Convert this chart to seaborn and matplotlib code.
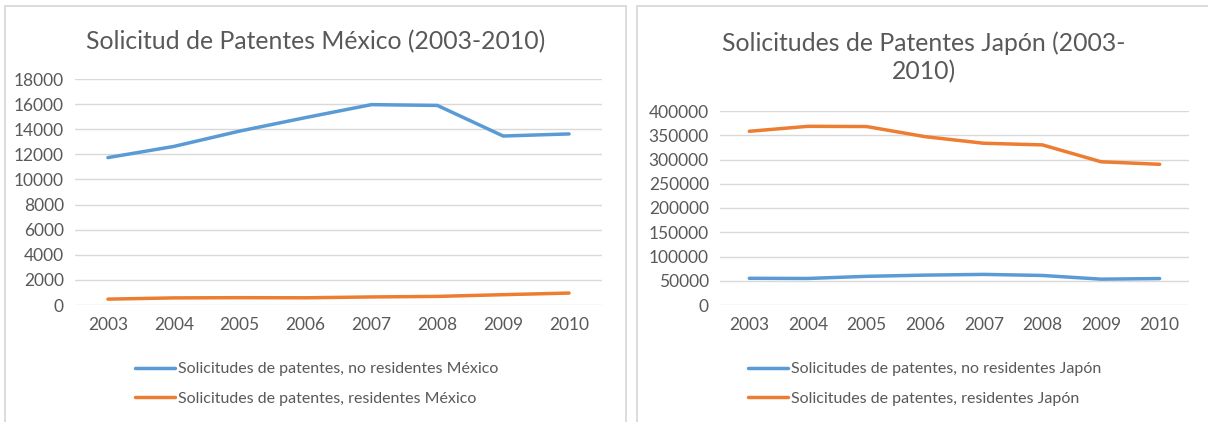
import matplotlib
matplotlib.use("Agg")
import matplotlib.pyplot as plt
import seaborn as sns
import pandas as pd
from matplotlib.patches import Rectangle
from matplotlib.lines import Line2D

years = [2003, 2004, 2005, 2006, 2007, 2008, 2009, 2010]
mx_no_res = [11739, 12629, 13852, 14926, 15958, 15896, 13459, 13625]
mx_res = [468, 565, 584, 574, 641, 685, 822, 951]
jp_no_res = [55030, 54710, 59118, 61614, 63104, 60892, 53281, 54517]
jp_res = [358184, 368416, 367960, 347060, 333498, 330110, 295315, 290081]

mx_labels = ["Solicitudes de patentes, no residentes México",
             "Solicitudes de patentes, residentes México"]
jp_labels = ["Solicitudes de patentes, no residentes Japón",
             "Solicitudes de patentes, residentes Japón"]
mx_title = "Solicitud de Patentes México (2003-2010)"
jp_title = "Solicitudes de Patentes Japón (2003-\n2010)"
mx_yticks = list(range(0, 18001, 2000))
jp_yticks = list(range(0, 400001, 50000))

BLUE = "#5B9BD5"
ORANGE = "#ED7D31"
TXT = "#595959"
GRID = "#D9D9D9"

sns.set_style("white")
plt.rcParams['font.family'] = ['Lato', 'DejaVu Sans']

W, H = 1208, 422
fig = plt.figure(figsize=(W / 100, H / 100), dpi=100)

def px_rect(x0, y0, x1, y1):
    return [x0 / W, 1 - y1 / H, (x1 - x0) / W, (y1 - y0) / H]

# panel borders
for (x0, x1) in [(5, 626), (637, 1214)]:
    fig.patches.append(Rectangle((x0 / W, -0.05), (x1 - x0) / W, 1 - 6 / H + 0.05,
                                 transform=fig.transFigure, fill=False,
                                 edgecolor="#D9D9D9", linewidth=1.3))

def draw(axrect, s1, s2, labels, title, yticks, title_xy, legend_xy):
    ax = fig.add_axes(px_rect(*axrect))
    df = pd.DataFrame({"Año": years * 2, "Valor": s1 + s2,
                       "Serie": [labels[0]] * len(years) + [labels[1]] * len(years)})
    sns.lineplot(data=df, x="Año", y="Valor", hue="Serie",
                 palette=[BLUE, ORANGE], linewidth=2.5, ax=ax, legend=False)
    ax.set_xlim(years[0] - 0.5, years[-1] + 0.5)
    ax.set_ylim(yticks[0], yticks[-1])
    ax.set_yticks(yticks)
    ax.set_xticks(years)
    ax.set_xticklabels([str(y) for y in years])
    ax.set_yticklabels([str(v) for v in yticks])
    ax.grid(axis="y", color=GRID, linewidth=1.0)
    ax.set_axisbelow(True)
    for sp in ax.spines.values():
        sp.set_visible(False)
    ax.tick_params(axis="both", length=0, labelsize=12.5, labelcolor=TXT)
    ax.tick_params(axis="y", pad=8)
    ax.tick_params(axis="x", pad=9)
    ax.set_xlabel("")
    ax.set_ylabel("")
    fig.text(title_xy[0] / W, 1 - title_xy[1] / H, title, ha="center", va="center",
             fontsize=17.8, color=TXT, linespacing=1.25)
    handles = [Line2D([], [], color=BLUE, linewidth=2.5),
               Line2D([], [], color=ORANGE, linewidth=2.5)]
    fig.legend(handles, labels, loc="upper left",
               bbox_to_anchor=(legend_xy[0] / W, 1 - legend_xy[1] / H),
               frameon=False, fontsize=11.5, labelcolor=TXT,
               handlelength=2.5, handletextpad=0.2, labelspacing=0.95,
               borderpad=0, borderaxespad=0)
    return ax

draw((75, 79, 602, 305), mx_no_res, mx_res, mx_labels, mx_title, mx_yticks,
     (316, 42), (135, 362))
draw((720, 111, 1189, 305), jp_no_res, jp_res, jp_labels, jp_title, jp_yticks,
     (924, 57), (748, 362))

fig.savefig("out.png", dpi=100)
